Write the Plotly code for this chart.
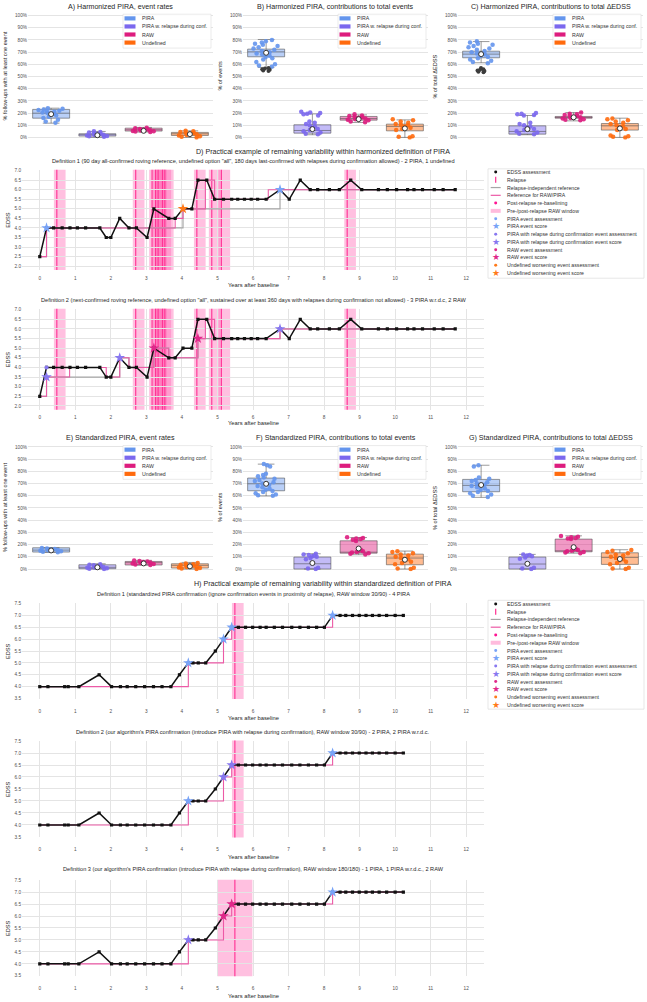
import plotly.graph_objects as go

W, H = 647, 1002
FONT = "Liberation Sans, Arial, Helvetica, sans-serif"
TXT = "#262626"
TICK = "#505050"
GRID = "#e4e4e4"

def fx(p):
    return p / W

def fy(p):
    return 1 - p / H

# ---------------------------------------------------------------- data
categories = ["PIRA", "PIRA w. relapse during conf.", "RAW", "Undefined"]
cat_colors = ["#6495ED", "#7B68EE", "#DD1C7E", "#FF6A0D"]
cat_fills = ["rgba(100,149,237,0.45)", "rgba(123,104,238,0.45)",
             "rgba(221,28,126,0.45)", "rgba(255,106,13,0.45)"]
pct_ticks = [0, 10, 20, 30, 40, 50, 60, 70, 80, 90, 100]
pct_labels = ["0%", "10%", "20%", "30%", "40%", "50%", "60%", "70%", "80%", "90%", "100%"]

# A) Harmonized PIRA, event rates
A_q1 = [15.8, 1.1, 5.2, 1.6]
A_median = [19.9, 2.2, 6.3, 3.0]
A_q3 = [23.0, 3.0, 7.6, 4.1]
A_low = [11.7, 0.0, 4.4, 0.0]
A_high = [24.0, 4.9, 8.2, 5.4]
A_mean = [19.1, 1.8, 5.4, 2.7]
A_pts_pira = [12.0, 13.0, 14.5, 16.0, 17.0, 18.0, 19.0, 19.5, 20.0, 20.5, 21.0, 21.5, 22.0, 22.5, 23.0, 23.5, 24.0]
A_pts_wrdc = [0.5, 1.0, 1.2, 1.5, 2.0, 2.2, 2.5, 3.0, 3.5, 4.0, 4.5, 5.0]
A_pts_raw = [4.4, 4.8, 5.0, 5.3, 5.6, 6.0, 6.3, 6.6, 7.0, 7.5, 8.0]
A_pts_undef = [0.0, 0.5, 1.0, 1.5, 2.0, 2.5, 3.0, 3.5, 4.0, 4.5, 5.0, 5.5]

# B) Harmonized PIRA, contributions to total events
B_q1 = [66.2, 3.5, 14.2, 5.4]
B_median = [70.3, 5.7, 15.5, 9.0]
B_q3 = [72.5, 10.4, 17.2, 10.9]
B_low = [57.5, 2.2, 12.3, 0.0]
B_high = [80.4, 19.3, 18.5, 14.4]
B_mean = [69.5, 6.8, 15.0, 7.4]
B_pts_pira = [58, 59, 60, 62, 64, 65, 66, 67, 68, 69, 70, 71, 72, 73, 74, 75, 76, 77, 78, 79, 80]
B_pts_wrdc = [2.5, 3, 4, 5, 6, 7, 8, 9, 10, 11, 12, 13, 18, 19, 19.5, 20, 20.5, 21]
B_pts_raw = [12.5, 13, 14, 14.5, 15, 15.5, 16, 16.5, 17, 17.5, 18, 19]
B_pts_undef = [0, 0.5, 1, 6, 7, 8, 9, 10, 10.5, 11, 12, 13, 14, 15]
B_outliers = [54.5, 55.0, 55.5, 56.0, 56.5, 57.0]

# C) Harmonized PIRA, contributions to total dEDSS
C_q1 = [65.4, 2.7, 15.8, 6.0]
C_median = [68.4, 4.9, 16.3, 9.5]
C_q3 = [70.8, 9.5, 17.2, 11.4]
C_low = [61.3, 2.2, 13.6, 0.0]
C_high = [78.7, 18.0, 20.4, 15.8]
C_mean = [68.4, 6.8, 16.5, 7.4]
C_pts_pira = [61, 62, 63, 64, 65, 66, 67, 68, 69, 70, 71, 72, 73, 74, 75, 76, 77, 78, 79]
C_pts_wrdc = [2.5, 3, 4, 5, 6, 7, 8, 9, 10, 11, 12, 18, 18.5, 19, 19.5, 20]
C_pts_raw = [14, 14.5, 15, 15.5, 16, 16.5, 17, 17.5, 18, 18.5, 19, 19.5, 20.5]
C_pts_undef = [0, 0.5, 1, 1.5, 6, 7, 8, 9, 10, 11, 12, 13, 14, 15, 15.5]
C_outliers = [53.5, 54.0, 54.5, 55.0, 55.5, 56.0, 57.0]

# E) Standardized PIRA, event rates
E_q1 = [13.9, 0.3, 3.3, 0.8]
E_median = [15.5, 1.4, 5.2, 3.0]
E_q3 = [17.4, 3.5, 6.2, 4.3]
E_low = [13.6, 0.0, 3.3, 0.0]
E_high = [17.4, 4.3, 7.1, 5.4]
E_mean = [15.2, 1.4, 4.6, 2.2]
E_pts_pira = [13.8, 14.2, 14.6, 15.0, 15.3, 15.6, 16.0, 16.4, 16.8, 17.2]
E_pts_wrdc = [0.0, 0.3, 0.6, 1.0, 1.3, 1.6, 2.0, 2.5, 3.0, 3.5, 4.0]
E_pts_raw = [3.4, 3.8, 4.2, 4.6, 5.0, 5.4, 5.8, 6.2, 6.6, 7.0]
E_pts_undef = [0.0, 0.4, 0.8, 1.2, 1.6, 2.0, 2.4, 2.8, 3.2, 3.6, 4.0, 4.5, 5.0]

# F) Standardized PIRA, contributions to total events
F_q1 = [64.1, 0.0, 13.0, 3.5]
F_median = [69.8, 4.3, 13.6, 9.0]
F_q3 = [74.5, 9.8, 23.1, 12.2]
F_low = [59.8, 0.0, 11.7, 0.0]
F_high = [85.9, 12.5, 25.8, 14.7]
F_mean = [69.8, 4.9, 16.8, 7.6]
F_pts_pira = [60, 60.5, 61, 62, 63, 64, 65, 66, 67, 68, 69, 70, 71, 72, 73, 74, 75, 76, 77, 78, 84, 85, 86]
F_pts_wrdc = [0, 0.5, 1, 8, 9, 10, 10.5, 11, 11.5, 12, 12.5]
F_pts_raw = [12, 12.5, 13, 13.5, 14, 14.5, 15, 15.5, 23, 24, 24.5, 25, 25.5, 26]
F_pts_undef = [0, 0.5, 1, 4, 5, 6, 7, 8, 9, 10, 11, 12, 13, 14, 14.5]

# G) Standardized PIRA, contributions to total dEDSS
G_q1 = [63.3, 0.0, 14.1, 3.8]
G_median = [68.5, 4.1, 14.7, 9.5]
G_q3 = [73.4, 9.8, 24.5, 13.3]
G_low = [58.7, 0.0, 13.0, 0.0]
G_high = [85.0, 12.0, 27.2, 15.8]
G_mean = [68.8, 4.3, 17.9, 8.2]
G_pts_pira = [59, 60, 61, 62, 63, 64, 65, 66, 67, 68, 69, 70, 71, 72, 73, 74, 75, 84, 85]
G_pts_wrdc = [0, 0.5, 1, 8.5, 9.5, 10.5, 11, 11.5, 12]
G_pts_raw = [13, 13.5, 14, 14.5, 15, 15.5, 16, 16.5, 24.5, 25, 25.5, 26, 26.5, 27]
G_pts_undef = [0, 0.5, 1, 4, 5, 6, 7, 8, 9, 10, 11, 12, 13, 14, 15, 15.5]

# D) harmonized example patient
D_years = [0.0, 0.19, 0.39, 0.63, 0.85, 1.06, 1.29, 1.69, 1.87, 2.0, 2.25, 2.51, 2.72, 3.02, 3.21,
           3.63, 3.81, 4.03, 4.28, 4.45, 4.70, 4.92, 5.17, 5.40, 5.57, 5.76, 5.95, 6.13, 6.37, 6.76,
           7.02, 7.33, 7.61, 7.82, 8.15, 8.43, 8.75, 9.06, 9.53, 9.78, 10.04, 10.35, 10.53, 10.77,
           11.10, 11.35, 11.69]
D_edss = [2.5, 4.0, 4.0, 4.0, 4.0, 4.0, 4.0, 4.0, 3.5, 3.5, 4.5, 4.0, 4.0, 3.5, 5.0,
          4.5, 4.5, 5.0, 5.0, 6.5, 6.5, 5.5, 5.5, 5.5, 5.5, 5.5, 5.5, 5.5, 5.5, 6.0,
          5.5, 6.5, 6.0, 6.0, 6.0, 6.0, 6.5, 6.0, 6.0, 6.0, 6.0, 6.0, 6.0, 6.0,
          6.0, 6.0, 6.0]
D_relapses = [0.48, 2.70, 3.16, 3.26, 3.33, 3.45, 3.52, 4.42, 4.84, 5.11, 8.65]
D_raw_window_days = [30, 90]
D1_gray_x = [0.0, 0.19, 4.03, 6.76, 11.69]
D1_gray_y = [2.5, 4.0, 5.0, 6.0, 6.0]
D1_ref_x = [0.0, 0.19, 3.81, 4.03, 4.66, 4.92, 6.43, 11.69]
D1_ref_y = [2.5, 4.0, 4.5, 5.0, 6.5, 5.5, 6.0, 6.0]
D1_pira_x = [0.19, 6.76]
D1_pira_y = [4.0, 6.0]
D1_undef_x = [4.03]
D1_undef_y = [5.0]
D2_gray_x = [0.0, 0.19, 2.25, 2.51, 3.21, 3.63, 4.45, 4.92, 6.76, 11.69]
D2_gray_y = [2.5, 3.5, 4.5, 4.0, 5.0, 4.5, 5.5, 5.5, 6.0, 6.0]
D2_ref_x = [0.0, 0.19, 0.84, 1.87, 2.25, 2.51, 3.21, 3.63, 4.45, 4.66, 4.92, 6.76, 11.69]
D2_ref_y = [2.5, 3.5, 4.0, 3.5, 4.5, 4.0, 5.0, 4.5, 5.5, 6.5, 5.5, 6.0, 6.0]
D2_wrdc_x = [0.19, 2.25, 6.76]
D2_wrdc_y = [3.5, 4.5, 6.0]
D2_wrdc_assess_x = [0.19]
D2_wrdc_assess_y = [4.0]
D2_raw_x = [3.21, 4.45]
D2_raw_y = [5.0, 5.5]

# H) standardized example patient
H_years = [0.0, 0.23, 0.70, 0.80, 1.10, 1.67, 2.02, 2.27, 2.46, 2.70, 2.95, 3.20, 3.44, 3.69, 3.93,
           4.18, 4.31, 4.46, 4.67, 4.94, 5.17, 5.40, 5.59, 5.79, 5.99, 6.20, 6.37, 6.60, 6.83, 7.09,
           7.32, 7.56, 7.79, 8.01, 8.24, 8.45, 8.61, 8.80, 8.99, 9.18, 9.36, 9.55, 9.76, 10.0, 10.23]
H_edss = [4.0, 4.0, 4.0, 4.0, 4.0, 4.5, 4.0, 4.0, 4.0, 4.0, 4.0, 4.0, 4.0, 4.0, 4.5,
          5.0, 5.0, 5.0, 5.0, 5.5, 6.0, 6.5, 6.5, 6.5, 6.5, 6.5, 6.5, 6.5, 6.5, 6.5,
          6.5, 6.5, 6.5, 6.5, 7.0, 7.0, 7.0, 7.0, 7.0, 7.0, 7.0, 7.0, 7.0, 7.0, 7.0]
H_relapses = [5.49]
H_ref_x = [0.0, 4.18, 5.17, 5.40, 8.24, 10.23]
H_ref_y = [4.0, 5.0, 6.0, 6.5, 7.0, 7.0]
H1_raw_window_days = [30, 90]
H2_raw_window_days = [30, 90]
H3_raw_window_days = [180, 180]
H1_pira_x = [4.18, 5.17, 5.40, 8.24]
H1_pira_y = [5.0, 6.0, 6.5, 7.0]
H2_pira_x = [4.18, 8.24]
H2_pira_y = [5.0, 7.0]
H2_wrdc_x = [5.17, 5.40]
H2_wrdc_y = [6.0, 6.5]
H3_pira_x = [8.24]
H3_pira_y = [7.0]
H3_wrdc_x = [4.18]
H3_wrdc_y = [5.0]
H3_raw_x = [5.17, 5.40]
H3_raw_y = [6.0, 6.5]

# ---------------------------------------------------------------- styles
EV_COL = {"pira": "#78A3F7", "wrdc": "#8878F0", "raw": "#E0288A", "undef": "#FF7A1A"}
RELAPSE_COL = "#FF2F92"
BAND_COL = "rgba(255,105,180,0.42)"
REF_COL = "#EC5AA6"
GRAY_COL = "#A6A6A6"

fig = go.Figure()
shapes = []
annos = []
layout = {}


def refs(i):
    s = "" if i == 1 else str(i)
    return "xaxis" + s, "yaxis" + s, "x" + s, "y" + s


def text(x, y, s, size, color=TXT, xanchor="center", angle=0):
    annos.append(dict(x=fx(x), y=fy(y), xref="paper", yref="paper", text=s, showarrow=False,
                      xanchor=xanchor, yanchor="middle", textangle=angle,
                      font=dict(family=FONT, size=size, color=color)))


def rect_px(x0, y0, x1, y1, fill, lc="rgba(0,0,0,0)", lw=0):
    shapes.append(dict(type="rect", xref="paper", yref="paper", x0=fx(x0), x1=fx(x1),
                       y0=fy(y1), y1=fy(y0), fillcolor=fill, line=dict(color=lc, width=lw),
                       layer="above"))


def line_px(x0, y0, x1, y1, color, lw):
    shapes.append(dict(type="line", xref="paper", yref="paper", x0=fx(x0), x1=fx(x1),
                       y0=fy(y0), y1=fy(y1), line=dict(color=color, width=lw), layer="above"))


def circle_px(x, y, r, color):
    shapes.append(dict(type="circle", xref="paper", yref="paper", x0=fx(x - r), x1=fx(x + r),
                       y0=fy(y + r), y1=fy(y - r), fillcolor=color, line=dict(width=0),
                       layer="above"))


def box_legend(left, top):
    rect_px(left, top, left + 88, top + 34, "rgba(255,255,255,0.9)", "#dddddd", 0.6)
    for i, cat in enumerate(categories):
        yc = top + 4.2 + 8.1 * i
        rect_px(left + 1.5, yc - 2.1, left + 12.5, yc + 2.1, cat_colors[i])
        text(left + 17, yc, cat, 5.2, "#333333", "left")


def box_panel(i, title, ytitle, q1, med, q3, lo, hi, mean, pts, outliers, left, top, bottom, ytitle_x):
    xk, yk, xr, yr = refs(i)
    for k, cat in enumerate(categories):
        fig.add_trace(go.Box(x=[cat], q1=[q1[k]], median=[med[k]], q3=[q3[k]],
                             lowerfence=[lo[k]], upperfence=[hi[k]], width=0.8, whiskerwidth=0.45,
                             fillcolor=cat_fills[k], line=dict(color="rgba(75,75,75,0.7)", width=0.8),
                             boxpoints=False, xaxis=xr, yaxis=yr, showlegend=False, hoverinfo="skip"))
        fig.add_trace(go.Box(x=[cat] * len(pts[k]), y=pts[k], boxpoints="all", jitter=0.7,
                             pointpos=0, width=0.8, fillcolor="rgba(0,0,0,0)",
                             line=dict(color="rgba(0,0,0,0)", width=0),
                             marker=dict(color=cat_colors[k], size=4.5, opacity=0.9),
                             xaxis=xr, yaxis=yr, showlegend=False, hoverinfo="skip"))
    if outliers:
        fig.add_trace(go.Box(x=[categories[0]] * len(outliers), y=outliers, boxpoints="all",
                             jitter=0.4, pointpos=0, width=0.5, fillcolor="rgba(0,0,0,0)",
                             line=dict(color="rgba(0,0,0,0)", width=0),
                             marker=dict(color="#3c3c3c", size=4),
                             xaxis=xr, yaxis=yr, showlegend=False, hoverinfo="skip"))
    fig.add_trace(go.Scatter(x=categories, y=mean, mode="markers", xaxis=xr, yaxis=yr,
                             marker=dict(symbol="circle", size=5, color="white",
                                         line=dict(color="#333333", width=1)),
                             showlegend=False, hoverinfo="skip"))
    layout[xk] = dict(domain=[fx(left), fx(left + 185)], range=[-0.5, 3.5], anchor=yr,
                      showticklabels=False, showgrid=False, zeroline=False, showline=False,
                      ticks="", categoryorder="array", categoryarray=categories)
    layout[yk] = dict(domain=[fy(bottom), fy(top)], range=[-2, 102], anchor=xr,
                      tickvals=pct_ticks, ticktext=pct_labels, showgrid=True, gridcolor=GRID,
                      gridwidth=0.8, zeroline=False, showline=False, ticks="",
                      tickfont=dict(family=FONT, size=4.7, color=TICK))
    text(left + 92.5, top - 6.5, title, 7.1)
    text(ytitle_x, (top + bottom) / 2, ytitle, 5.6, angle=-90)
    box_legend(left + 95, top + 1)


def line_panel(i, years, edss, relapses, window, gray_x, gray_y, ref_x, ref_y, events,
               yrange, ytickvals, top, bottom, subtitle, sub_y, xtitle_y, standoff):
    xk, yk, xr, yr = refs(i)
    pre, post = window[0] / 365.25, window[1] / 365.25
    for r in relapses:
        shapes.append(dict(type="rect", xref=xr, yref=yr + " domain", x0=r - pre, x1=r + post,
                           y0=0, y1=1, fillcolor=BAND_COL, line=dict(width=0), layer="below"))
    for r in relapses:
        shapes.append(dict(type="line", xref=xr, yref=yr + " domain", x0=r, x1=r, y0=0, y1=1,
                           line=dict(color=RELAPSE_COL, width=1.1), layer="below"))
    if gray_x:
        fig.add_trace(go.Scatter(x=gray_x, y=gray_y, mode="lines", line=dict(color=GRAY_COL, width=1.2, shape="hv"),
                                 xaxis=xr, yaxis=yr, showlegend=False, hoverinfo="skip"))
    fig.add_trace(go.Scatter(x=ref_x, y=ref_y, mode="lines", line=dict(color=REF_COL, width=1.1, shape="hv"),
                             xaxis=xr, yaxis=yr, showlegend=False, hoverinfo="skip"))
    fig.add_trace(go.Scatter(x=years, y=edss, mode="lines+markers",
                             line=dict(color="#111111", width=1.5),
                             marker=dict(color="#111111", size=3.2, symbol="square"),
                             xaxis=xr, yaxis=yr, showlegend=False, hoverinfo="skip"))
    for kind, sym, xs, ys in events:
        fig.add_trace(go.Scatter(x=xs, y=ys, mode="markers", xaxis=xr, yaxis=yr,
                                 marker=dict(symbol=sym, size=8 if sym == "star" else 4,
                                             color=EV_COL[kind], line=dict(width=0)),
                                 showlegend=False, hoverinfo="skip"))
    layout[xk] = dict(domain=[fx(22), fx(484)], range=[-0.5, 12.5], anchor=yr, tick0=0, dtick=1,
                      showgrid=True, gridcolor=GRID, gridwidth=0.8, zeroline=False, showline=False,
                      ticks="", ticklabelstandoff=standoff,
                      tickfont=dict(family=FONT, size=4.7, color=TICK))
    layout[yk] = dict(domain=[fy(bottom), fy(top)], range=yrange, anchor=xr, tickvals=ytickvals,
                      tickformat=".1f", showgrid=True, gridcolor=GRID, gridwidth=0.8,
                      zeroline=False, showline=False, ticks="",
                      tickfont=dict(family=FONT, size=4.7, color=TICK))
    text(253, sub_y, subtitle, 5.6)
    text(253, xtitle_y, "Years after baseline", 5.8)
    text(8, (top + bottom) / 2, "EDSS", 5.6, angle=-90)


legend_entries = [
    ("EDSS assessment", "dot", "#111111"),
    ("Relapse", "vline", RELAPSE_COL),
    ("Relapse-independent reference", "hline", GRAY_COL),
    ("Reference for RAW/PIRA", "hline", REF_COL),
    ("Post-relapse re-baselining", "dot", "#FF1493"),
    ("Pre-/post-relapse RAW window", "band", "rgba(255,105,180,0.45)"),
    ("PIRA event assessment", "dot", EV_COL["pira"]),
    ("PIRA event score", "star", EV_COL["pira"]),
    ("PIRA with relapse during confirmation event assessment", "dot", EV_COL["wrdc"]),
    ("PIRA with relapse during confirmation event score", "star", EV_COL["wrdc"]),
    ("RAW event assessment", "dot", EV_COL["raw"]),
    ("RAW event score", "star", EV_COL["raw"]),
    ("Undefined worsening event assessment", "dot", EV_COL["undef"]),
    ("Undefined worsening event score", "star", EV_COL["undef"]),
]


def line_legend(top, bottom, first):
    rect_px(488, top, 644, bottom, "rgba(255,255,255,0.95)", "#dcdcdc", 0.7)
    gx = 495.7
    for k, (lab, g, c) in enumerate(legend_entries):
        yc = first + 7.8 * k
        if g == "dot":
            circle_px(gx, yc, 1.5, c)
        elif g == "star":
            text(gx, yc, "\u2605", 8.5, c)
        elif g == "vline":
            line_px(gx, yc - 3, gx, yc + 3, c, 1.2)
        elif g == "hline":
            line_px(gx - 5, yc, gx + 5, yc, c, 1.2)
        elif g == "band":
            rect_px(gx - 5, yc - 2, gx + 5, yc + 2, c)
        text(505, yc, lab, 5.2, "#333333", "left")


# ---------------------------------------------------------------- panels
box_panel(1, "A) Harmonized PIRA, event rates", "% follow-ups with at least one event",
          A_q1, A_median, A_q3, A_low, A_high, A_mean,
          [A_pts_pira, A_pts_wrdc, A_pts_raw, A_pts_undef], None, 28, 11.25, 138.4, 5)
box_panel(2, "B) Harmonized PIRA, contributions to total events", "% of events",
          B_q1, B_median, B_q3, B_low, B_high, B_mean,
          [B_pts_pira, B_pts_wrdc, B_pts_raw, B_pts_undef], B_outliers, 243, 11.25, 138.4, 220)
box_panel(3, "C) Harmonized PIRA, contributions to total \u0394EDSS", "% of total \u0394EDSS",
          C_q1, C_median, C_q3, C_low, C_high, C_mean,
          [C_pts_pira, C_pts_wrdc, C_pts_raw, C_pts_undef], C_outliers, 458, 11.25, 138.4, 435)
box_panel(4, "E) Standardized PIRA, event rates", "% follow-ups with at least one event",
          E_q1, E_median, E_q3, E_low, E_high, E_mean,
          [E_pts_pira, E_pts_wrdc, E_pts_raw, E_pts_undef], None, 28, 444.25, 571.75, 5)
box_panel(5, "F) Standardized PIRA, contributions to total events", "% of events",
          F_q1, F_median, F_q3, F_low, F_high, F_mean,
          [F_pts_pira, F_pts_wrdc, F_pts_raw, F_pts_undef], None, 243, 444.25, 571.75, 220)
box_panel(6, "G) Standardized PIRA, contributions to total \u0394EDSS", "% of total \u0394EDSS",
          G_q1, G_median, G_q3, G_low, G_high, G_mean,
          [G_pts_pira, G_pts_wrdc, G_pts_raw, G_pts_undef], None, 458, 444.25, 571.75, 435)

d_ticks = [2.0, 2.5, 3.0, 3.5, 4.0, 4.5, 5.0, 5.5, 6.0, 6.5, 7.0]
h_ticks = [3.5, 4.0, 4.5, 5.0, 5.5, 6.0, 6.5, 7.0, 7.5]

text(323, 150.7, "D) Practical example of remaining variability within harmonized definition of PIRA", 7.1)
line_panel(7, D_years, D_edss, D_relapses, D_raw_window_days, D1_gray_x, D1_gray_y, D1_ref_x, D1_ref_y,
           [("pira", "star", D1_pira_x, D1_pira_y), ("undef", "star", D1_undef_x, D1_undef_y)],
           [1.8, 7.05], d_ticks, 168.3, 269.1,
           "Definition 1 (90 day all-confirmed roving reference, undefined option \"all\", 180 days last-confirmed with relapses during confirmation allowed) - 2 PIRA, 1 undefined",
           160, 284, 4)
line_panel(8, D_years, D_edss, D_relapses, D_raw_window_days, D2_gray_x, D2_gray_y, D2_ref_x, D2_ref_y,
           [("wrdc", "circle", D2_wrdc_assess_x, D2_wrdc_assess_y),
            ("wrdc", "star", D2_wrdc_x, D2_wrdc_y), ("raw", "star", D2_raw_x, D2_raw_y)],
           [1.8, 7.05], d_ticks, 308.0, 409.4,
           "Definition 2 (next-confirmed roving reference, undefined option \"all\", sustained over at least 360 days with relapses during confirmation not allowed) - 3 PIRA w.r.d.c, 2 RAW",
           299.3, 423, 4)
line_legend(167.5, 277.3, 170.7)

text(323, 584, "H) Practical example of remaining variability within standardized definition of PIRA", 7.1)
line_panel(9, H_years, H_edss, H_relapses, H1_raw_window_days, None, None, H_ref_x, H_ref_y,
           [("pira", "star", H1_pira_x, H1_pira_y)],
           [3.48, 7.52], h_ticks, 603.5, 699.8,
           "Definition 1 (standardized PIRA confirmation (ignore confirmation events in proximity of relapse), RAW window 30/90) - 4 PIRA",
           594, 719, 8)
line_panel(10, H_years, H_edss, H_relapses, H2_raw_window_days, None, None, H_ref_x, H_ref_y,
           [("pira", "star", H2_pira_x, H2_pira_y), ("wrdc", "star", H2_wrdc_x, H2_wrdc_y)],
           [3.48, 7.52], h_ticks, 741.5, 838.8,
           "Definition 2 (our algorithm's PIRA confirmation (introduce PIRA with relapse during confirmation), RAW window 30/90) - 2 PIRA, 2 PIRA w.r.d.c.",
           732.7, 858.7, 8)
line_panel(11, H_years, H_edss, H_relapses, H3_raw_window_days, None, None, H_ref_x, H_ref_y,
           [("pira", "star", H3_pira_x, H3_pira_y), ("wrdc", "star", H3_wrdc_x, H3_wrdc_y),
            ("raw", "star", H3_raw_x, H3_raw_y)],
           [3.48, 7.52], h_ticks, 881.2, 978.2,
           "Definition 3 (our algorithm's PIRA confirmation (introduce PIRA with relapse during confirmation), RAW window 180/180) - 1 PIRA, 1 PIRA w.r.d.c., 2 RAW",
           870.3, 997.7, 8)
line_legend(600.7, 710, 604.3)

fig.update_layout(width=W, height=H, margin=dict(l=0, r=0, t=0, b=0, pad=0),
                  paper_bgcolor="white", plot_bgcolor="white", showlegend=False,
                  boxmode="overlay", shapes=shapes, annotations=annos,
                  font=dict(family=FONT, color=TXT), **layout)
fig.write_html("out.html")
